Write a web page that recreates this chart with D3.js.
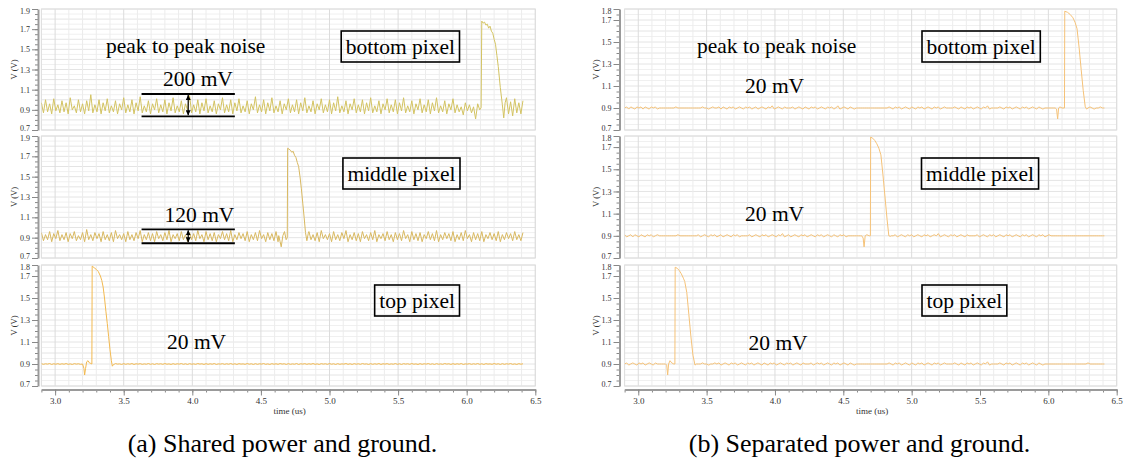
<!DOCTYPE html>
<html><head><meta charset="utf-8">
<script src="https://cdn.jsdelivr.net/npm/d3@7/dist/d3.min.js"></script>
<style>body{margin:0;background:#fff}svg{display:block}
text{font-family:'Liberation Serif','Tinos','Times New Roman','DejaVu Serif','Noto Serif',serif}</style>
</head><body><svg id="c" width="1126" height="466"></svg>
<script>
// ---------------- DATA ----------------
// sample grid: t = 2.9 us + i * 0.015 us, i = 0..234
const gridStart = 2.9, gridStep = 0.015;
const xTicks = [3.0, 3.5, 4.0, 4.5, 5.0, 5.5, 6.0, 6.5];
const yTicksWide = [0.7, 0.9, 1.1, 1.3, 1.5, 1.7, 1.9];
const yTicksNarrow = [0.7, 0.9, 1.1, 1.3, 1.5, 1.7, 1.8];

// (a) shared power and ground — bottom pixel
const sharedBottomBase = [
0.97,0.87,1.00,0.88,0.96,0.86,1.01,0.89,0.95,0.87,
0.99,0.88,0.97,0.86,1.02,0.90,0.94,0.87,1.00,0.88,
0.96,0.86,0.99,0.89,1.05,0.87,0.95,0.88,1.00,0.86,
0.97,0.89,1.01,0.87,0.94,0.88,0.99,0.86,0.96,0.90,
1.02,0.87,0.95,0.88,1.00,0.86,0.97,0.89,1.03,0.87,
0.94,0.88,0.99,0.86,0.96,0.90,1.01,0.87,0.95,0.88,
1.00,0.86,0.97,0.89,1.02,0.87,0.94,0.88,0.99,0.86,
0.96,0.90,1.04,0.87,0.95,0.88,1.00,0.86,0.97,0.89,
1.01,0.87,0.94,0.88,0.99,0.86,0.96,0.90,1.02,0.87,
0.95,0.88,1.00,0.86,0.97,0.89,1.01,0.87,0.94,0.88,
0.99,0.86,0.96,0.90,1.03,0.87,0.95,0.88,1.00,0.86,
0.97,0.89,1.02,0.87,0.94,0.88,0.99,0.86,0.96,0.90,
1.01,0.87,0.95,0.88,1.00,0.86,0.97,0.89,1.02,0.87,
0.94,0.88,0.99,0.86,0.96,0.90,1.01,0.87,0.95,0.88,
1.00,0.86,0.97,0.89,1.03,0.87,0.94,0.88,0.99,0.86,
0.96,0.90,1.01,0.87,0.95,0.88,1.00,0.86,0.97,0.89,
1.02,0.87,0.94,0.88,0.99,0.86,0.96,0.90,1.01,0.87,
0.95,0.88,1.00,0.86,0.97,0.89,1.02,0.87,0.94,0.88,
0.99,0.86,0.96,0.90,1.01,0.87,0.95,0.88,1.00,0.86,
0.97,0.89,1.02,0.87,0.94,0.88,0.99,0.86,0.96,0.90,
1.01,0.87,0.95,0.88,0.93,0.85,0.97,0.89,0.95,0.87,
0.96,0.88,0.94,0.87,1.00,0.86,0.97,0.88,0.99,0.86,
0.97,0.89,1.00,0.87,0.95,0.85,1.02,0.86,0.98,0.84,
1.01,0.87,0.97,0.86,0.99];
const sharedBottomPulse = [
[6.05,0.93],[6.065,0.81],[6.08,0.96],[6.095,0.90],[6.105,0.92],[6.11,1.78],[6.12,1.76],
[6.13,1.77],[6.14,1.74],[6.15,1.75],[6.16,1.71],[6.17,1.73],[6.18,1.68],[6.19,1.66],
[6.20,1.60],[6.21,1.55],[6.22,1.44],[6.23,1.33],[6.245,1.12],[6.26,0.95],[6.27,0.82],[6.28,0.97]];

// (a) shared — middle pixel
const sharedMiddleBase = [
0.95,0.87,0.93,0.88,0.96,0.86,0.94,0.89,0.97,0.87,
0.93,0.88,0.95,0.86,0.94,0.89,0.96,0.87,0.92,0.88,
0.95,0.86,0.98,0.88,0.93,0.87,0.95,0.89,0.94,0.86,
0.96,0.88,0.93,0.87,0.95,0.86,0.97,0.89,0.93,0.88,
0.94,0.86,0.96,0.88,0.93,0.87,0.95,0.89,0.97,0.86,
0.93,0.88,0.95,0.87,0.94,0.86,0.96,0.89,0.93,0.87,
0.95,0.88,0.97,0.86,0.93,0.89,0.94,0.87,0.96,0.88,
0.93,0.86,0.95,0.88,0.94,0.87,0.97,0.89,0.93,0.86,
0.96,0.88,0.94,0.87,0.95,0.86,0.93,0.89,0.96,0.88,
0.94,0.87,0.97,0.86,0.93,0.88,0.95,0.89,0.94,0.87,
0.96,0.86,0.93,0.88,0.95,0.87,0.97,0.89,0.93,0.86,
0.95,0.88,0.94,0.87,0.96,0.86,0.93,0.89,0.95,0.88,
0.94,0.87,0.96,0.86,0.93,0.88,0.95,0.89,0.94,0.87,
0.96,0.88,0.93,0.87,0.95,0.86,0.97,0.89,0.93,0.88,
0.94,0.86,0.96,0.88,0.93,0.87,0.95,0.89,0.97,0.86,
0.93,0.88,0.95,0.87,0.94,0.86,0.96,0.89,0.93,0.87,
0.95,0.88,0.97,0.86,0.93,0.89,0.94,0.87,0.96,0.88,
0.93,0.86,0.95,0.88,0.94,0.87,0.97,0.89,0.93,0.86,
0.96,0.88,0.94,0.87,0.95,0.86,0.93,0.89,0.96,0.88,
0.94,0.87,0.97,0.86,0.93,0.88,0.95,0.89,0.94,0.87,
0.96,0.86,0.93,0.88,0.95,0.87,0.97,0.89,0.93,0.86,
0.95,0.88,0.94,0.87,0.96,0.86,0.93,0.89,0.95,0.88,
0.94,0.87,0.96,0.86,0.93,0.88,0.95,0.89,0.94,0.87,
0.96,0.88,0.93,0.87,0.95];
const sharedMiddlePulse = [
[4.63,0.92],[4.64,0.86],[4.648,0.81],[4.66,0.92],[4.672,0.96],[4.684,0.88],[4.692,0.90],
[4.695,1.78],[4.705,1.77],[4.715,1.76],[4.725,1.74],[4.735,1.75],[4.745,1.71],[4.755,1.69],
[4.765,1.64],[4.775,1.60],[4.785,1.50],[4.795,1.38],[4.805,1.24],[4.815,1.10],[4.825,0.95],
[4.835,0.87],[4.845,0.94]];

// (a) shared — top pixel
const sharedTopBase = [
0.903,0.897,0.902,0.899,0.904,0.896,0.902,0.898,0.903,0.897,
0.902,0.898,0.904,0.897,0.901,0.896,0.903,0.899,0.902,0.897,
0.904,0.898,0.902,0.896,0.903,0.897,0.901,0.899,0.904,0.897,
0.902,0.896,0.903,0.898,0.902,0.897,0.904,0.899,0.901,0.896,
0.903,0.897,0.902,0.898,0.904,0.896,0.902,0.899,0.903,0.897,
0.901,0.898,0.904,0.897,0.902,0.896,0.903,0.899,0.902,0.897,
0.904,0.898,0.901,0.896,0.903,0.897,0.902,0.899,0.904,0.897,
0.902,0.896,0.903,0.898,0.901,0.897,0.904,0.899,0.902,0.896,
0.903,0.897,0.902,0.898,0.904,0.896,0.901,0.899,0.903,0.897,
0.902,0.898,0.904,0.897,0.902,0.896,0.903,0.899,0.901,0.897,
0.904,0.898,0.902,0.896,0.903,0.897,0.902,0.899,0.904,0.897,
0.901,0.896,0.903,0.898,0.902,0.897,0.904,0.899,0.902,0.896,
0.903,0.897,0.901,0.898,0.904,0.896,0.902,0.899,0.903,0.897,
0.902,0.898,0.904,0.897,0.901,0.896,0.903,0.899,0.902,0.897,
0.904,0.898,0.902,0.896,0.903,0.897,0.901,0.899,0.904,0.897,
0.902,0.896,0.903,0.898,0.902,0.897,0.904,0.899,0.901,0.896,
0.903,0.897,0.902,0.898,0.904,0.896,0.902,0.899,0.903,0.897,
0.901,0.898,0.904,0.897,0.902,0.896,0.903,0.899,0.902,0.897,
0.904,0.898,0.901,0.896,0.903,0.897,0.902,0.899,0.904,0.897,
0.902,0.896,0.903,0.898,0.901,0.897,0.904,0.899,0.902,0.896,
0.903,0.897,0.902,0.898,0.904,0.896,0.901,0.899,0.903,0.897,
0.902,0.898,0.904,0.897,0.902,0.896,0.903,0.899,0.901,0.897,
0.904,0.898,0.902,0.896,0.903,0.897,0.902,0.899,0.904,0.897,
0.901,0.896,0.903,0.898,0.902];
const sharedTopPulse = [
[3.20,0.90],[3.21,0.86],[3.215,0.80],[3.222,0.86],[3.23,0.92],[3.24,0.93],[3.25,0.91],
[3.26,0.905],[3.268,0.90],[3.27,1.79],[3.285,1.775],[3.30,1.76],[3.315,1.74],[3.33,1.70],
[3.34,1.66],[3.35,1.60],[3.36,1.50],[3.37,1.38],[3.38,1.27],[3.39,1.15],[3.40,1.03],
[3.41,0.93],[3.417,0.88],[3.425,0.895],[3.435,0.90]];

// (b) separated power and ground — bottom pixel
const sepBottomBase = [
0.90,0.91,0.89,0.91,0.90,0.89,0.91,0.90,0.91,0.89,
0.91,0.90,0.89,0.91,0.90,0.91,0.89,0.90,0.90,0.90,
0.90,0.90,0.90,0.90,0.90,0.91,0.90,0.90,0.90,0.90,
0.90,0.90,0.90,0.90,0.90,0.90,0.90,0.90,0.91,0.90,
0.90,0.89,0.90,0.91,0.90,0.90,0.91,0.89,0.91,0.90,
0.89,0.91,0.90,0.91,0.89,0.90,0.91,0.90,0.89,0.91,
0.90,0.91,0.89,0.90,0.91,0.89,0.90,0.91,0.90,0.89,
0.91,0.90,0.92,0.89,0.90,0.91,0.90,0.89,0.91,0.90,
0.90,0.90,0.91,0.89,0.90,0.91,0.90,0.89,0.91,0.90,
0.89,0.91,0.90,0.91,0.89,0.90,0.91,0.90,0.89,0.91,
0.90,0.91,0.89,0.90,0.92,0.89,0.90,0.91,0.90,0.89,
0.91,0.90,0.89,0.90,0.90,0.90,0.90,0.90,0.90,0.90,
0.90,0.90,0.90,0.90,0.90,0.90,0.90,0.90,0.90,0.91,
0.90,0.89,0.91,0.90,0.91,0.89,0.90,0.91,0.90,0.89,
0.91,0.90,0.89,0.91,0.90,0.91,0.89,0.90,0.91,0.90,
0.89,0.91,0.90,0.91,0.89,0.90,0.91,0.90,0.90,0.90,
0.90,0.91,0.90,0.89,0.91,0.90,0.89,0.91,0.90,0.91,
0.89,0.90,0.91,0.90,0.89,0.91,0.90,0.92,0.89,0.90,
0.90,0.90,0.90,0.91,0.90,0.89,0.91,0.90,0.91,0.89,
0.90,0.91,0.90,0.89,0.91,0.90,0.91,0.89,0.90,0.91,
0.90,0.89,0.91,0.90,0.89,0.90,0.90,0.90,0.90,0.90,
0.90,0.90,0.90,0.90,0.90,0.90,0.90,0.90,0.90,0.90,
0.90,0.90,0.90,0.90,0.90,0.90,0.90,0.91,0.90,0.89,
0.90,0.90,0.91,0.90,0.90];
const sepBottomPulse = [
[6.05,0.90],[6.06,0.89],[6.068,0.80],[6.075,0.90],[6.085,0.91],[6.10,0.90],[6.118,0.90],
[6.12,1.78],[6.14,1.77],[6.16,1.75],[6.18,1.72],[6.195,1.68],[6.21,1.62],[6.225,1.45],
[6.24,1.25],[6.255,1.06],[6.27,0.91],[6.28,0.89],[6.29,0.90]];

// (b) separated — middle pixel
const sepMiddleBase = [
0.91,0.89,0.90,0.91,0.89,0.91,0.90,0.89,0.91,0.90,
0.89,0.91,0.90,0.91,0.89,0.90,0.91,0.90,0.90,0.90,
0.90,0.90,0.90,0.90,0.90,0.90,0.91,0.90,0.90,0.90,
0.90,0.90,0.90,0.90,0.90,0.90,0.91,0.89,0.90,0.91,
0.90,0.89,0.91,0.90,0.91,0.89,0.90,0.91,0.89,0.90,
0.91,0.90,0.89,0.91,0.90,0.91,0.89,0.90,0.90,0.90,
0.90,0.91,0.89,0.90,0.91,0.90,0.89,0.91,0.90,0.91,
0.89,0.90,0.91,0.90,0.89,0.91,0.90,0.92,0.89,0.90,
0.91,0.89,0.90,0.91,0.90,0.89,0.91,0.90,0.91,0.89,
0.90,0.91,0.90,0.89,0.91,0.90,0.91,0.89,0.90,0.91,
0.90,0.89,0.91,0.90,0.89,0.91,0.90,0.91,0.89,0.90,
0.90,0.90,0.90,0.90,0.90,0.90,0.90,0.90,0.90,0.90,
0.90,0.90,0.90,0.90,0.90,0.90,0.90,0.90,0.90,0.90,
0.90,0.90,0.91,0.89,0.90,0.91,0.90,0.89,0.91,0.90,
0.91,0.89,0.90,0.91,0.90,0.89,0.91,0.90,0.91,0.89,
0.90,0.91,0.90,0.92,0.89,0.90,0.91,0.90,0.89,0.91,
0.90,0.91,0.89,0.90,0.91,0.90,0.89,0.91,0.90,0.90,
0.90,0.90,0.91,0.89,0.90,0.91,0.90,0.89,0.91,0.90,
0.91,0.89,0.90,0.91,0.90,0.89,0.91,0.90,0.91,0.89,
0.90,0.91,0.90,0.89,0.91,0.90,0.91,0.89,0.90,0.91,
0.90,0.89,0.91,0.90,0.91,0.89,0.90,0.91,0.90,0.90,
0.90,0.90,0.90,0.90,0.90,0.90,0.90,0.90,0.90,0.90,
0.90,0.90,0.90,0.90,0.90,0.90,0.90,0.90,0.90,0.90,
0.90,0.90,0.90,0.90,0.90];
const sepMiddlePulse = [
[4.635,0.90],[4.645,0.88],[4.652,0.80],[4.66,0.90],[4.672,0.91],[4.69,0.90],[4.698,0.90],
[4.70,1.79],[4.715,1.78],[4.73,1.76],[4.745,1.73],[4.76,1.69],[4.775,1.63],[4.79,1.45],
[4.805,1.25],[4.82,1.05],[4.833,0.90],[4.845,0.895]];

// (b) separated — top pixel
const sepTopBase = [
0.90,0.91,0.89,0.90,0.91,0.90,0.89,0.91,0.90,0.91,
0.89,0.90,0.91,0.90,0.89,0.91,0.90,0.90,0.90,0.90,
0.90,0.90,0.90,0.90,0.90,0.90,0.90,0.90,0.90,0.90,
0.90,0.90,0.90,0.90,0.90,0.90,0.90,0.90,0.91,0.90,
0.90,0.89,0.90,0.90,0.91,0.90,0.91,0.89,0.90,0.91,
0.90,0.89,0.91,0.90,0.91,0.89,0.90,0.91,0.90,0.89,
0.91,0.90,0.91,0.89,0.90,0.91,0.90,0.89,0.91,0.90,
0.89,0.91,0.90,0.91,0.89,0.90,0.91,0.90,0.89,0.91,
0.90,0.91,0.89,0.90,0.91,0.90,0.89,0.91,0.90,0.90,
0.90,0.91,0.89,0.90,0.91,0.90,0.91,0.89,0.90,0.91,
0.90,0.89,0.91,0.90,0.91,0.89,0.90,0.91,0.90,0.89,
0.91,0.90,0.89,0.90,0.90,0.90,0.90,0.90,0.90,0.90,
0.90,0.90,0.90,0.90,0.90,0.90,0.90,0.90,0.90,0.91,
0.90,0.89,0.91,0.90,0.91,0.89,0.90,0.91,0.90,0.89,
0.91,0.90,0.89,0.91,0.90,0.91,0.89,0.90,0.91,0.90,
0.89,0.91,0.90,0.91,0.89,0.90,0.91,0.90,0.90,0.90,
0.90,0.91,0.90,0.89,0.91,0.90,0.89,0.91,0.90,0.91,
0.89,0.90,0.91,0.90,0.89,0.91,0.90,0.92,0.89,0.90,
0.90,0.90,0.90,0.91,0.90,0.89,0.91,0.90,0.91,0.89,
0.90,0.91,0.90,0.89,0.91,0.90,0.91,0.89,0.90,0.91,
0.90,0.89,0.91,0.90,0.89,0.90,0.90,0.90,0.90,0.90,
0.90,0.90,0.90,0.90,0.90,0.90,0.90,0.90,0.90,0.90,
0.90,0.90,0.90,0.90,0.90,0.90,0.91,0.90,0.90,0.90,
0.90,0.90,0.90,0.90,0.90];
const sepTopPulse = [
[3.20,0.90],[3.208,0.89],[3.215,0.80],[3.222,0.90],[3.232,0.93],[3.245,0.91],[3.26,0.90],
[3.268,0.90],[3.27,1.78],[3.285,1.77],[3.30,1.75],[3.315,1.72],[3.33,1.68],[3.34,1.65],
[3.355,1.55],[3.37,1.35],[3.385,1.15],[3.40,0.98],[3.415,0.89],[3.425,0.90]];

// noise brackets (time span, high / low level, arrow time)
const bracketBottom = {t0: 3.63, t1: 4.31, hi: 1.057, lo: 0.836, ta: 3.97};
const bracketMiddle = {t0: 3.63, t1: 4.31, hi: 0.982, lo: 0.845, ta: 3.97};

// ---------------- DRAWING ----------------
const svg = d3.select('#c');

function merge(base, pulse) {
  const lo = pulse[0][0], hi = pulse[pulse.length - 1][0];
  const pts = base.map((v, i) => [gridStart + i * gridStep, v])
    .filter(d => d[0] < lo - 1e-9 || d[0] > hi + 1e-9);
  return pts.concat(pulse).sort((a, b) => a[0] - b[0]);
}

const panelRows = [[9, 130], [136, 258], [265, 386]];
const charts = [
  { xr: [41.4, 535.3], axisX: 38, caption: '(a) Shared power and ground.', capX: 282.5,
    panels: [
      { dom: [0.7, 1.9], ticks: yTicksWide, data: merge(sharedBottomBase, sharedBottomPulse), color: '#d3c362' },
      { dom: [0.7, 1.9], ticks: yTicksWide, data: merge(sharedMiddleBase, sharedMiddlePulse), color: '#d8b860' },
      { dom: [0.7, 1.8], ticks: yTicksNarrow, data: merge(sharedTopBase, sharedTopPulse), color: '#f2b950' }
    ]},
  { xr: [624.6, 1116.7], axisX: 619.5, caption: '(b) Separated power and ground.', capX: 859.5,
    panels: [
      { dom: [0.7, 1.8], ticks: yTicksNarrow, data: merge(sepBottomBase, sepBottomPulse), color: '#f5c278' },
      { dom: [0.7, 1.8], ticks: yTicksNarrow, data: merge(sepMiddleBase, sepMiddlePulse), color: '#f5c278' },
      { dom: [0.7, 1.8], ticks: yTicksNarrow, data: merge(sepTopBase, sepTopPulse), color: '#f5c278' }
    ]}
];

// arrow markers
const defs = svg.append('defs');
['s', 'e'].forEach(k => {
  defs.append('marker').attr('id', 'arr' + k).attr('viewBox', '0 0 10 10')
    .attr('refX', k === 'e' ? 10 : 0).attr('refY', 5).attr('markerWidth', 5).attr('markerHeight', 5)
    .attr('orient', 'auto').attr('markerUnits', 'userSpaceOnUse')
    .append('path').attr('d', k === 'e' ? 'M0,0L10,5L0,10z' : 'M10,0L0,5L10,10z').attr('fill', '#000');
});

charts.forEach((ch, ci) => {
  const x = d3.scaleLinear().domain([2.9, 6.5]).range(ch.xr);
  ch.x = x;
  ch.ys = [];
  ch.panels.forEach((p, pi) => {
    const [top, bot] = panelRows[pi];
    const y = d3.scaleLinear().domain(p.dom).range([bot, top]);
    ch.ys.push(y);
    const g = svg.append('g');
    g.append('rect').attr('x', ch.xr[0]).attr('y', top).attr('width', ch.xr[1] - ch.xr[0])
      .attr('height', bot - top).attr('fill', '#fff');
    const nY = Math.round((p.dom[1] - p.dom[0]) / 0.05);
    y.ticks(nY).forEach(v => {
      const major = Math.abs(Math.round(v * 10) - v * 10) < 1e-6;
      g.append('line').attr('x1', ch.xr[0]).attr('x2', ch.xr[1]).attr('y1', y(v)).attr('y2', y(v))
        .attr('stroke', major ? '#e4e4e4' : '#f0f0f0').attr('stroke-width', 1);
    });
    x.ticks(36).forEach(v => {
      const major = Math.abs(Math.round(v * 2) - v * 2) < 1e-6;
      g.append('line').attr('y1', top).attr('y2', bot).attr('x1', x(v)).attr('x2', x(v))
        .attr('stroke', major ? '#dcdcdc' : '#ececec').attr('stroke-width', 1);
    });
    g.append('rect').attr('x', ch.xr[0]).attr('y', top).attr('width', ch.xr[1] - ch.xr[0])
      .attr('height', bot - top).attr('fill', 'none').attr('stroke', '#dedede');

    // y axis
    const yMin = svg.append('g').attr('transform', `translate(${ch.axisX},0)`)
      .call(d3.axisLeft(y).tickValues(y.ticks(nY)).tickSize(3).tickSizeOuter(0).tickFormat(''));
    yMin.select('.domain').remove();
    yMin.selectAll('.tick line').attr('stroke', '#888');
    const yMaj = svg.append('g').attr('transform', `translate(${ch.axisX},0)`)
      .call(d3.axisLeft(y).tickValues(p.ticks).tickSize(6).tickSizeOuter(0).tickFormat(d3.format('.1f')));
    yMaj.select('.domain').attr('stroke', '#9a9a9a').attr('stroke-width', 2);
    yMaj.selectAll('.tick line').attr('stroke', '#888');
    yMaj.selectAll('text').attr('font-family', null).attr('font-size', 8).attr('fill', '#333').attr('x', -8)
      .attr('dy', d => d === p.dom[0] ? '0.1em' : (d === p.dom[1] ? '0.5em' : '0.32em'));

    svg.append('text').attr('transform', `translate(${ch.axisX - 21},${(top + bot) / 2}) rotate(-90)`)
      .attr('text-anchor', 'middle').attr('font-size', 8.5).attr('fill', '#333')
      .text('V (V)');

    // trace
    const clipId = `clip${ci}${pi}`;
    defs.append('clipPath').attr('id', clipId).append('rect')
      .attr('x', ch.xr[0]).attr('y', top - 2).attr('width', ch.xr[1] - ch.xr[0]).attr('height', bot - top + 4);
    svg.append('path').datum(p.data).attr('clip-path', `url(#${clipId})`)
      .attr('d', d3.line().x(d => x(d[0])).y(d => y(d[1])))
      .attr('fill', 'none').attr('stroke', p.color).attr('stroke-width', 1);
  });

  // x axis
  const axY = 389.5;
  const xMin = svg.append('g').attr('transform', `translate(0,${axY})`)
    .call(d3.axisBottom(x).ticks(36).tickSize(3).tickSizeOuter(0).tickFormat(''));
  xMin.select('.domain').remove();
  xMin.selectAll('.tick line').attr('stroke', '#888');
  const xMaj = svg.append('g').attr('transform', `translate(0,${axY})`)
    .call(d3.axisBottom(x).tickValues(xTicks).tickSize(6).tickSizeOuter(0).tickFormat(d3.format('.1f')));
  xMaj.select('.domain').attr('stroke', '#9a9a9a').attr('stroke-width', 2);
  xMaj.selectAll('.tick line').attr('stroke', '#888');
  xMaj.selectAll('text').attr('font-family', null).attr('font-size', 9).attr('fill', '#333').attr('y', 8);
  svg.append('text').attr('x', x(4.71)).attr('y', 414).attr('text-anchor', 'middle')
    .attr('font-size', 9).attr('fill', '#333').text('time (us)');

  // caption
  svg.append('text').attr('x', ch.capX).attr('y', 452).attr('text-anchor', 'middle')
    .attr('font-size', 26).attr('fill', '#000').text(ch.caption);
});

// annotations
function label(txt, x, y) {
  return svg.append('text').attr('x', x).attr('y', y)
    .attr('font-size', 21.5).attr('fill', '#000').text(txt);
}
function boxLabel(txt, edge, align, top, bot) {
  const t = svg.append('text').attr('font-size', 21.5).attr('fill', '#000')
    .attr('text-anchor', 'middle').text(txt);
  const w = t.node().getComputedTextLength() + 9;
  const left = align === 'right' ? edge - w : edge;
  t.attr('x', left + w / 2).attr('y', top + 22.5);
  svg.append('rect').attr('x', left).attr('y', top).attr('width', w).attr('height', bot - top)
    .attr('fill', 'none').attr('stroke', '#000').attr('stroke-width', 1.6);
}
function bracket(ch, pi, b) {
  const x = ch.x, y = ch.ys[pi];
  [b.hi, b.lo].forEach(v => svg.append('line').attr('x1', x(b.t0)).attr('x2', x(b.t1))
    .attr('y1', y(v)).attr('y2', y(v)).attr('stroke', '#000').attr('stroke-width', 1.8));
  svg.append('line').attr('x1', x(b.ta)).attr('x2', x(b.ta)).attr('y1', y(b.hi) + 1).attr('y2', y(b.lo) - 1)
    .attr('stroke', '#000').attr('stroke-width', 1.2)
    .attr('marker-start', 'url(#arrs)').attr('marker-end', 'url(#arre)');
}

const L = charts[0], R = charts[1];
label('peak to peak noise', 106, 53);
label('200 mV', 163, 86);
bracket(L, 0, bracketBottom);
boxLabel('bottom pixel', 459.5, 'right', 31, 62);
label('120 mV', 164.5, 222);
bracket(L, 1, bracketMiddle);
boxLabel('middle pixel', 460, 'right', 158, 189);
label('20 mV', 167, 349);
boxLabel('top pixel', 459.5, 'right', 285, 316);

label('peak to peak noise', 697, 53);
label('20 mV', 745, 93);
boxLabel('bottom pixel', 922, 'left', 31, 62);
label('20 mV', 745, 221);
boxLabel('middle pixel', 921.5, 'left', 158, 189);
label('20 mV', 748.5, 350);
boxLabel('top pixel', 922, 'left', 285, 316);
</script></body></html>
